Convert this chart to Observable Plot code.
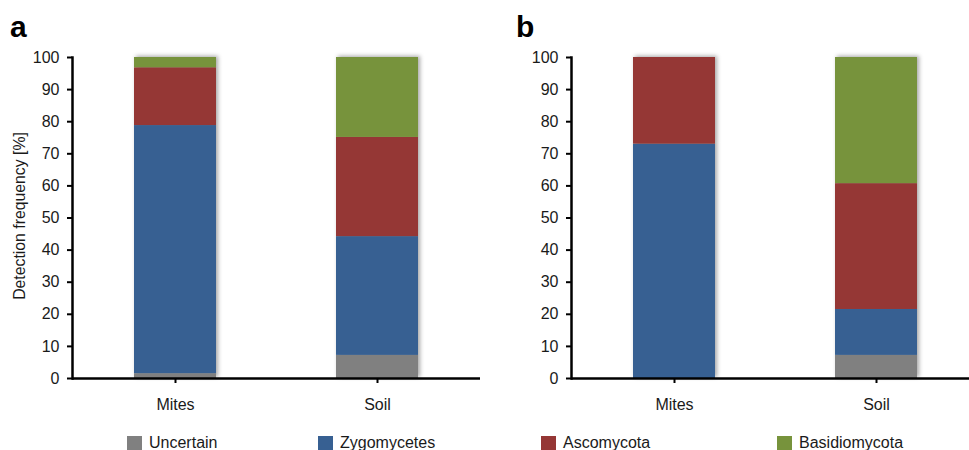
<!DOCTYPE html>
<html>
<head>
<meta charset="utf-8">
<script src="https://cdn.jsdelivr.net/npm/d3@7"></script>
<script src="https://cdn.jsdelivr.net/npm/@observablehq/plot@0.6"></script>
<style>
  body { margin: 0; background: #fff; font-family: "Liberation Sans", Arial, sans-serif; }
  #root { position: relative; width: 969px; height: 450px; overflow: hidden; }
  .panel { position: absolute; top: 0; }
  .plabel { position: absolute; font-weight: bold; font-size: 30px; line-height: 1; color: #000; }
  .ylab { position: absolute; left: 20px; top: 216px; transform: translate(-50%, -50%) rotate(-90deg); white-space: nowrap; font-size: 15.8px; line-height: 1; color: #1a1a1a; }
  .leg { position: absolute; top: 435px; display: flex; align-items: center; font-size: 16px; line-height: 16px; color: #1a1a1a; }
  .leg span.sw { display: inline-block; width: 15px; height: 15px; margin-right: 7px; }
</style>
</head>
<body>
<div id="root"></div>
<script>
const categories = ["Mites", "Soil"];
const groups = ["Uncertain", "Zygomycetes", "Ascomycota", "Basidiomycota"];
const colors = ["#808080", "#376092", "#953735", "#77933C"];
const yTicks = [0, 10, 20, 30, 40, 50, 60, 70, 80, 90, 100];
const yLabel = "Detection frequency [%]";
// panel a values (%), order follows groups
const aMites = [1.5, 77.3, 18.0, 3.2];
const aSoil = [7.2, 37.0, 30.9, 24.9];
// panel b values (%)
const bMites = [0, 73.0, 27.0, 0];
const bSoil = [7.2, 14.3, 39.2, 39.3];
const legendX = [127, 318, 541, 777];

function rows(m, s) {
  const out = [];
  groups.forEach((g, i) => {
    out.push({cat: categories[0], group: g, value: m[i]});
    out.push({cat: categories[1], group: g, value: s[i]});
  });
  return out;
}

function panel(data, opts) {
  const chart = Plot.plot({
    width: opts.width,
    height: 425,
    marginLeft: opts.marginLeft,
    marginRight: opts.marginRight,
    marginTop: 57,
    marginBottom: 47,
    style: {fontFamily: "'Liberation Sans', Arial, sans-serif", fontSize: "16px", color: "#1a1a1a", background: "transparent"},
    x: {domain: categories, range: opts.range, paddingInner: 0.596, paddingOuter: 0.303, label: null},
    y: {domain: [0, 100], label: null},
    color: {domain: groups, range: colors},
    marks: [
      Plot.barY(data, {x: "cat", y: "value", fill: "group", order: groups}),
      Plot.ruleY([0], {stroke: "#000", strokeWidth: 2.5}),
      Plot.frame({anchor: "left", stroke: "#000", strokeWidth: 2.5}),
      Plot.axisY({ticks: yTicks, tickSize: 5, tickPadding: 8, strokeWidth: 2, stroke: "#000", fontSize: 16, label: null}),
      Plot.axisX({tickSize: 5, tickPadding: 15, strokeWidth: 2, stroke: "#000", label: null, fontSize: 16})
    ]
  });
  chart.classList.add("panel");
  chart.style.left = opts.left + "px";
  const bars = chart.querySelector('g[aria-label="bar"]');
  if (bars) bars.style.filter = "drop-shadow(2px -1px 2px rgba(0,0,0,0.35))";
  return chart;
}

const root = document.getElementById("root");
root.appendChild(panel(rows(aMites, aSoil), {width: 484, marginLeft: 72, marginRight: 4, range: [72, 480], left: 0}));
root.appendChild(panel(rows(bMites, bSoil), {width: 485, marginLeft: 87, marginRight: 0, range: [87, 495], left: 484}));

const yl = document.createElement("div");
yl.className = "ylab";
yl.textContent = yLabel;
root.appendChild(yl);

[["a", 10], ["b", 516]].forEach(([t, x]) => {
  const d = document.createElement("div");
  d.className = "plabel";
  d.style.left = x + "px";
  d.style.top = "12px";
  d.textContent = t;
  root.appendChild(d);
});

groups.forEach((g, i) => {
  const d = document.createElement("div");
  d.className = "leg";
  d.style.left = legendX[i] + "px";
  const sw = document.createElement("span");
  sw.className = "sw";
  sw.style.background = colors[i];
  d.appendChild(sw);
  d.appendChild(document.createTextNode(g));
  root.appendChild(d);
});
</script>
</body>
</html>
